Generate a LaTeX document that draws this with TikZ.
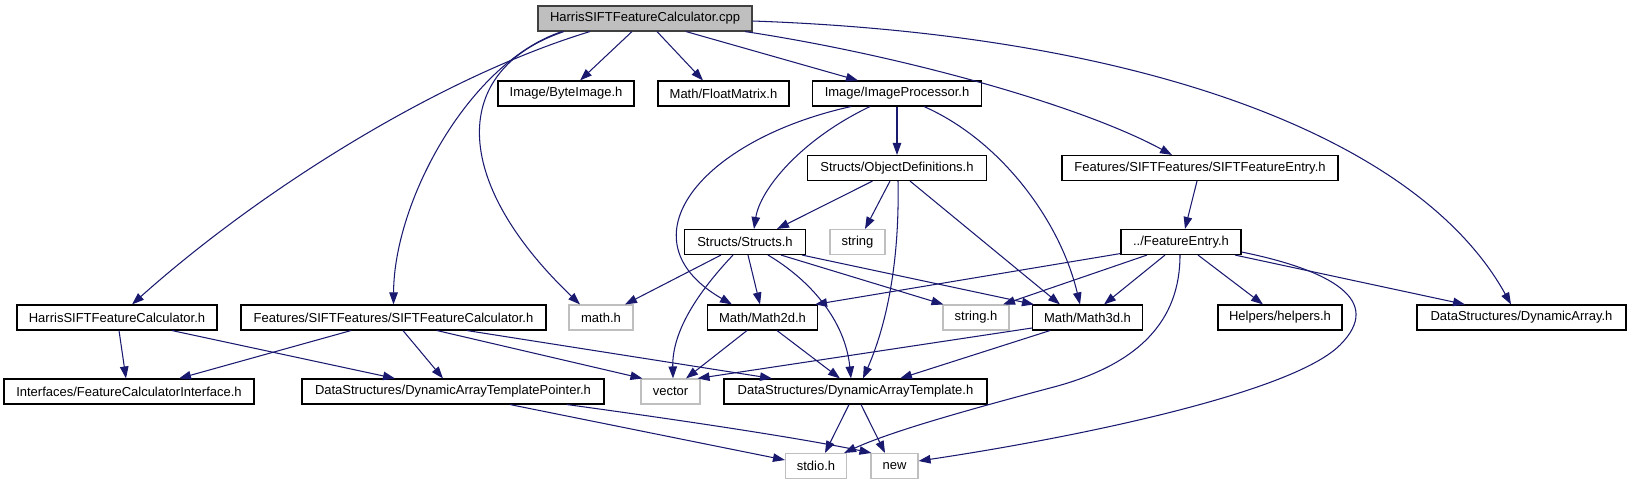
\documentclass[tikz,border=0pt]{standalone}
\usepackage{fontspec}
\setmainfont{Liberation Sans}
\usetikzlibrary{arrows.meta}
\definecolor{edgeblue}{HTML}{191970}
\definecolor{sysgray}{HTML}{BFBFBF}
\definecolor{rootgray}{HTML}{BFBFBF}
\tikzset{
  box/.style={draw=black, line width=1.1pt, fill=white, minimum height=25pt, inner sep=0pt, anchor=center, font=\fontsize{13pt}{15pt}\selectfont},
  sysbox/.style={box, draw=sysgray},
  rootbox/.style={box, fill=rootgray, draw=black!75},
  e/.style={draw=edgeblue, line width=1.05pt, -{Triangle[length=12pt,width=8.5pt]}, fill=none}
}
\begin{document}
\begin{tikzpicture}[x=1pt,y=-1pt]
\useasboundingbox (0,0) rectangle (1631,485);
% row 0
\node[rootbox, minimum width=214pt] (root) at (645,18.5) {HarrisSIFTFeatureCalculator.cpp};
% row 1
\node[box, minimum width=136pt] (byte) at (566,93.5) {Image/ByteImage.h};
\node[box, minimum width=131pt] (floatm) at (723.5,93.5) {Math/FloatMatrix.h};
\node[box, minimum width=169pt] (improc) at (897,93.5) {Image/ImageProcessor.h};
% row 2
\node[box, minimum width=179pt] (objdef) at (897,168) {Structs/ObjectDefinitions.h};
\node[box, minimum width=276pt] (sfe) at (1200,168) {Features/SIFTFeatures/SIFTFeatureEntry.h};
% row 3
\node[box, minimum width=121pt] (structs) at (745,242) {Structs/Structs.h};
\node[sysbox, minimum width=55pt] (string) at (857.5,242) {string};
\node[box, minimum width=120pt] (fentry) at (1181,242) {../FeatureEntry.h};
% row 4
\node[box, minimum width=200pt] (hsfch) at (117,317.5) {HarrisSIFTFeatureCalculator.h};
\node[box, minimum width=305pt] (sfch) at (393.5,317.5) {Features/SIFTFeatures/SIFTFeatureCalculator.h};
\node[sysbox, minimum width=64pt] (mathh) at (601,317.5) {math.h};
\node[box, minimum width=110pt] (m2d) at (762.5,317.5) {Math/Math2d.h};
\node[sysbox, minimum width=66pt] (stringh) at (976,317.5) {string.h};
\node[box, minimum width=110pt] (m3d) at (1087.5,317.5) {Math/Math3d.h};
\node[box, minimum width=124pt] (helpers) at (1280,317.5) {Helpers/helpers.h};
\node[box, minimum width=209pt] (dyna) at (1521.5,317.5) {DataStructures/DynamicArray.h};
% row 5
\node[box, minimum width=250pt] (iface) at (129,391.5) {Interfaces/FeatureCalculatorInterface.h};
\node[box, minimum width=302pt] (datp) at (453,391.5) {DataStructures/DynamicArrayTemplatePointer.h};
\node[sysbox, minimum width=59pt] (vector) at (670.5,391.5) {vector};
\node[box, minimum width=263pt] (dat) at (855.5,391.5) {DataStructures/DynamicArrayTemplate.h};
% row 6
\node[sysbox, minimum width=61pt] (stdio) at (816,466) {stdio.h};
\node[sysbox, minimum width=47pt] (new) at (894.5,466) {new};

% root edges
\draw[e] ([xshift=-13pt]root.south) -- ([xshift=14pt]byte.north);
\draw[e] ([xshift=12pt]root.south) -- ([xshift=-20.5pt]floatm.north);
\draw[e] ([xshift=41pt]root.south) -- ([xshift=-39pt]improc.north);
\draw[e] ([xshift=100pt]root.south) .. controls (900,55) and (1080,105) .. ([xshift=-28pt]sfe.north);
\draw[e] ([yshift=-2.5pt]root.east) .. controls (1150,35) and (1420,140) .. ([xshift=-10.5pt]dyna.north);
\draw[e] ([xshift=-55pt]root.south) .. controls (440,77) and (260,190) .. ([xshift=15pt]hsfch.north);
\draw[e] ([xshift=-83pt]root.south) .. controls (470,62) and (394,200) .. (sfch.north);
\draw[e] ([xshift=-81pt]root.south) .. controls (450,70) and (450,180) .. ([xshift=-21pt]mathh.north);
% image processor
\draw[e] ([xshift=-46pt]improc.south) .. controls (700,140) and (620,240) .. ([xshift=-30.5pt]m2d.north);
\draw[e] ([xshift=-27pt]improc.south) .. controls (800,140) and (760,190) .. ([xshift=9pt]structs.north);
\draw[e] (improc.south) -- (objdef.north);
\draw[e] ([xshift=27pt]improc.south) .. controls (1000,140) and (1060,220) .. ([xshift=-7.5pt]m3d.north);
% object definitions
\draw[e] ([xshift=-24.5pt]objdef.south) -- ([xshift=32pt]structs.north);
\draw[e] ([xshift=-7pt]objdef.south) -- ([xshift=7.5pt]string.north);
\draw[e] ([xshift=1pt]objdef.south) .. controls (900,280) and (880,340) .. ([xshift=7.5pt]dat.north);
\draw[e] ([xshift=13pt]objdef.south) -- ([xshift=-27.5pt]m3d.north);
% sift feature entry
\draw[e] ([xshift=-3pt]sfe.south) -- ([xshift=4pt]fentry.north);
% feature entry
\draw[e] ([yshift=1.5pt]fentry.south west) -- ([xshift=52.5pt]m2d.north);
\draw[e] ([xshift=-34pt]fentry.south) -- ([xshift=27pt]stringh.north);
\draw[e] ([xshift=-16pt]fentry.south) -- ([xshift=16.5pt]m3d.north);
\draw[e] ([xshift=17pt]fentry.south) -- ([xshift=-17pt]helpers.north);
\draw[e] ([xshift=54pt]fentry.south) -- ([xshift=-56.5pt]dyna.north);
\draw[e] ([xshift=-1pt]fentry.south) .. controls (1180,320) and (1140,365) .. (1050,388) .. controls (960,412) and (890,432) .. ([xshift=-3pt]stdio.north east);
\draw[e] ([yshift=-10pt]fentry.east) .. controls (1330,270) and (1385,300) .. (1340,345) .. controls (1290,395) and (1060,440) .. ([yshift=5pt]new.east);
% structs
\draw[e] ([xshift=-24pt]structs.south) -- ([xshift=24pt]mathh.north);
\draw[e] ([xshift=-12pt]structs.south) .. controls (700,290) and (672,330) .. ([xshift=2.5pt]vector.north);
\draw[e] ([xshift=3pt]structs.south) -- ([xshift=-2.5pt]m2d.north);
\draw[e] ([xshift=23pt]structs.south) .. controls (810,280) and (845,320) .. ([xshift=-4.5pt]dat.north);
\draw[e] ([xshift=36pt]structs.south) -- ([xshift=1pt]stringh.north west);
\draw[e] ([xshift=57pt]structs.south) -- ([xshift=2pt]m3d.north west);
% harris h
\draw[e] ([xshift=2pt]hsfch.south) -- ([xshift=-3pt]iface.north);
\draw[e] ([xshift=55pt]hsfch.south) -- ([xshift=-58pt]datp.north);
% sift feature calculator h
\draw[e] ([xshift=-42.5pt]sfch.south) -- ([xshift=50pt]iface.north);
\draw[e] ([xshift=9.5pt]sfch.south) -- ([xshift=-10pt]datp.north);
\draw[e] ([xshift=43.5pt]sfch.south) -- ([xshift=2pt]vector.north west);
\draw[e] ([xshift=73.5pt]sfch.south) -- ([xshift=-83.5pt]dat.north);
% math2d / math3d
\draw[e] ([xshift=-15.5pt]m2d.south) -- ([xshift=15.5pt]vector.north);
\draw[e] ([xshift=14.5pt]m2d.south) -- ([xshift=-15.5pt]dat.north);
\draw[e] ([yshift=-10.5pt]m3d.west) -- ([xshift=-3pt]vector.north east);
\draw[e] ([xshift=-37.5pt]m3d.south) -- ([xshift=44.5pt]dat.north);
% template pointer / template
\draw[e] ([xshift=57pt]datp.south) -- ([yshift=6pt]stdio.west);
\draw[e] ([xshift=114pt]datp.south) .. controls (680,420) and (800,438) .. ([xshift=1pt]new.north west);
\draw[e] ([xshift=-6.5pt]dat.south) -- ([xshift=9pt]stdio.north);
\draw[e] ([xshift=5.5pt]dat.south) -- ([xshift=-9.5pt]new.north);
\end{tikzpicture}
\end{document}
